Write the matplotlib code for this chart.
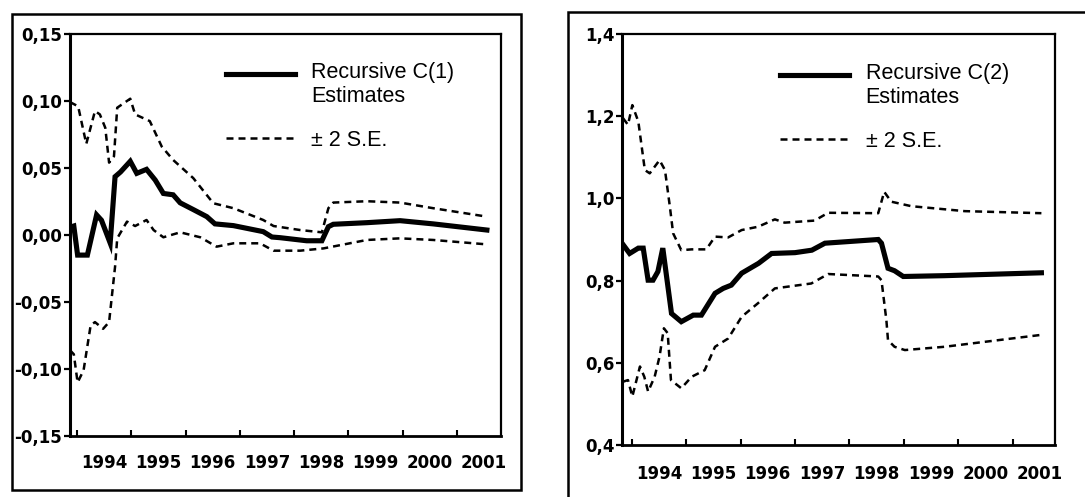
import numpy as np
import matplotlib
matplotlib.use("Agg")
import matplotlib.pyplot as plt
from matplotlib.patches import Rectangle
from matplotlib.legend_handler import HandlerLine2D

plt.rcParams["font.family"] = ["Liberation Sans", "DejaVu Sans"]

# ---- C(1) panel ----
c1_x = [1993.90, 1993.94, 1994.01, 1994.19, 1994.36, 1994.45, 1994.61, 1994.70,
        1994.80, 1994.98, 1995.10, 1995.28, 1995.44, 1995.59, 1995.77, 1995.90,
        1996.14, 1996.39, 1996.54, 1996.88, 1997.43, 1997.59, 1997.74, 1998.23,
        1998.51, 1998.63, 1998.72, 1999.34, 1999.95, 2000.56, 2001.55]
c1_est = [0.0062, 0.0067, -0.015, -0.015, 0.015, 0.011, -0.006, 0.0435,
          0.047, 0.055, 0.046, 0.049, 0.041, 0.031, 0.030, 0.024,
          0.019, 0.0137, 0.0083, 0.007, 0.0025, -0.0015, -0.002, -0.0043,
          -0.0043, 0.0062, 0.008, 0.0092, 0.0107, 0.0083, 0.0037]

c1_up_x = [1993.87, 1994.02, 1994.17, 1994.33, 1994.42, 1994.52, 1994.59, 1994.68,
           1994.74, 1994.98, 1995.07, 1995.34, 1995.56, 1995.77, 1996.14, 1996.51,
           1996.88, 1997.43, 1997.62, 1998.11, 1998.51, 1998.63, 1998.72, 1999.34,
           1999.95, 2000.56, 2001.55]
c1_up = [0.0992, 0.096, 0.068, 0.0925, 0.090, 0.080, 0.054, 0.0587,
         0.095, 0.1017, 0.090, 0.085, 0.066, 0.056, 0.0425, 0.0237,
         0.020, 0.0112, 0.0067, 0.0037, 0.002, 0.020, 0.0242, 0.0252,
         0.0242, 0.020, 0.0137]

c1_lo_x = [1993.87, 1993.94, 1994.01, 1994.12, 1994.25, 1994.33, 1994.48, 1994.59,
           1994.70, 1994.74, 1994.92, 1995.07, 1995.28, 1995.41, 1995.59, 1995.90,
           1996.27, 1996.57, 1996.88, 1997.37, 1997.62, 1998.11, 1998.54, 1999.34,
           1999.95, 2000.56, 2001.55]
c1_lo = [-0.086, -0.089, -0.110, -0.101, -0.0675, -0.065, -0.070, -0.065,
         -0.0237, -0.0025, 0.010, 0.0067, 0.0112, 0.0037, -0.0017, 0.002,
         -0.0017, -0.0087, -0.0062, -0.0062, -0.0117, -0.0117, -0.010, -0.0037,
         -0.0025, -0.0037, -0.007]

# ---- C(2) panel ----
c2_x = [1993.82, 1993.96, 1994.12, 1994.21, 1994.30, 1994.39, 1994.48, 1994.57,
        1994.73, 1994.91, 1995.13, 1995.28, 1995.53, 1995.68, 1995.83, 1996.02,
        1996.33, 1996.57, 1997.00, 1997.31, 1997.55, 1998.53, 1998.59, 1998.71,
        1998.83, 1998.99, 1999.75, 2001.53]
c2_est = [0.891, 0.866, 0.879, 0.879, 0.801, 0.801, 0.822, 0.879,
          0.720, 0.700, 0.716, 0.716, 0.769, 0.781, 0.789, 0.818,
          0.842, 0.866, 0.868, 0.874, 0.891, 0.900, 0.891, 0.830,
          0.824, 0.810, 0.812, 0.819]

c2_up_x = [1993.84, 1993.93, 1994.01, 1994.12, 1994.24, 1994.33, 1994.51, 1994.61,
           1994.70, 1994.76, 1994.91, 1995.10, 1995.37, 1995.53, 1995.77, 1996.02,
           1996.32, 1996.63, 1996.81, 1997.36, 1997.61, 1998.53, 1998.64, 1998.77,
           1999.14, 2000.12, 2001.53]
c2_up = [1.195, 1.179, 1.227, 1.187, 1.069, 1.061, 1.093, 1.069,
         0.980, 0.915, 0.874, 0.876, 0.876, 0.907, 0.905, 0.923,
         0.931, 0.949, 0.941, 0.946, 0.965, 0.964, 1.016, 0.992,
         0.981, 0.969, 0.964]

c2_lo_x = [1993.84, 1993.93, 1994.01, 1994.15, 1994.23, 1994.30, 1994.42, 1994.51,
           1994.59, 1994.66, 1994.72, 1994.91, 1995.10, 1995.34, 1995.53, 1995.77,
           1996.02, 1996.32, 1996.63, 1997.30, 1997.61, 1998.53, 1998.59, 1998.68,
           1998.71, 1998.83, 1999.02, 1999.75, 2001.53]
c2_lo = [0.554, 0.558, 0.518, 0.591, 0.566, 0.530, 0.566, 0.615,
         0.684, 0.672, 0.558, 0.538, 0.566, 0.582, 0.639, 0.659,
         0.712, 0.745, 0.781, 0.793, 0.816, 0.810, 0.801, 0.704,
         0.655, 0.639, 0.631, 0.639, 0.668]

years = list(range(1994, 2002))
year_labels = [str(y) for y in years]
c1_ticks = [0.15, 0.10, 0.05, 0.00, -0.05, -0.10, -0.15]
c1_ticklabels = ["0,15", "0,10", "0,05", "0,00", "-0,05", "-0,10", "-0,15"]
c2_ticks = [1.4, 1.2, 1.0, 0.8, 0.6, 0.4]
c2_ticklabels = ["1,4", "1,2", "1,0", "0,8", "0,6", "0,4"]

DASH = (0, (2.8, 2.0))
TICKFONT = dict(family="DejaVu Sans", fontsize=12, fontweight="bold")


class FirstLineHandler(HandlerLine2D):
    # put the key next to the first line of a two-line label
    def __init__(self, shift, **kw):
        super().__init__(**kw)
        self.shift = shift

    def create_artists(self, legend, orig_handle, xdescent, ydescent, width,
                       height, fontsize, trans):
        arts = super().create_artists(legend, orig_handle, xdescent, ydescent,
                                      width, height, fontsize, trans)
        for a in arts:
            a.set_ydata(np.asarray(a.get_ydata()) + self.shift * fontsize)
        return arts


def style_axes(ax, xlim, ylim, ticks, labels, xpad):
    ax.set_xlim(*xlim)
    ax.set_ylim(*ylim)
    for s in ax.spines.values():
        s.set_linewidth(1.6)
    ax.spines["left"].set_linewidth(2.2)
    ax.spines["bottom"].set_linewidth(2.0)
    ax.set_yticks(ticks)
    ax.set_yticklabels(labels, **TICKFONT)
    ax.tick_params(axis="y", direction="out", length=4, width=1.6, pad=1.5)
    # year boundaries: small inward ticks, labels sit in the middle of each year
    ax.set_xticks(years)
    ax.set_xticklabels([])
    ax.tick_params(axis="x", which="major", direction="in", length=4, width=1.5)
    ax.set_xticks([y + 0.5 for y in years], minor=True)
    ax.set_xticklabels(year_labels, minor=True, **TICKFONT)
    ax.tick_params(axis="x", which="minor", length=0, pad=xpad)
    ax.tick_params(right=False, top=False)


fig = plt.figure(figsize=(10.85, 4.97), dpi=100)

# outer frames
fig.add_artist(Rectangle((12 / 1085, 1 - 490 / 497), 509 / 1085, 476 / 497,
                         transform=fig.transFigure, fill=False, lw=1.8, color="black"))
fig.add_artist(Rectangle((568 / 1085, -0.05), 0.6, 1 - 12 / 497 + 0.05,
                         transform=fig.transFigure, fill=False, lw=1.8, color="black"))

ax1 = fig.add_axes([70 / 1085, 61 / 497, 431 / 1085, 402 / 497])
ax2 = fig.add_axes([622 / 1085, 52 / 497, 433 / 1085, 411 / 497])

panels = [
    (ax1, c1_x, c1_est, c1_up_x, c1_up, c1_lo_x, c1_lo, "Recursive C(1)",
     (1993.87, 2001.81), (-0.15, 0.15), c1_ticks, c1_ticklabels, 13, 0.362),
    (ax2, c2_x, c2_est, c2_up_x, c2_up, c2_lo_x, c2_lo, "Recursive C(2)",
     (1993.82, 2001.78), (0.4, 1.4), c2_ticks, c2_ticklabels, 14.5, 0.366),
]

for (ax, ex, ey, ux, uy, lx, ly, name, xlim, ylim, ticks, labels, xpad, lgx) in panels:
    est, = ax.plot(ex, ey, color="black", lw=3.7, solid_joinstyle="miter")
    se, = ax.plot(ux, uy, color="black", lw=1.8, linestyle=DASH)
    ax.plot(lx, ly, color="black", lw=1.8, linestyle=DASH)
    style_axes(ax, xlim, ylim, ticks, labels, xpad)
    ax.legend([est, se], [name + "\nEstimates", "\u00b1 2 S.E."],
              loc="upper left", bbox_to_anchor=(lgx, 0.93), frameon=False,
              fontsize=15.5, handlelength=3.2, handletextpad=0.75,
              labelspacing=1.05, borderpad=0, borderaxespad=0,
              handler_map={est: FirstLineHandler(0.52)})

fig.savefig("out.png", dpi=100)
